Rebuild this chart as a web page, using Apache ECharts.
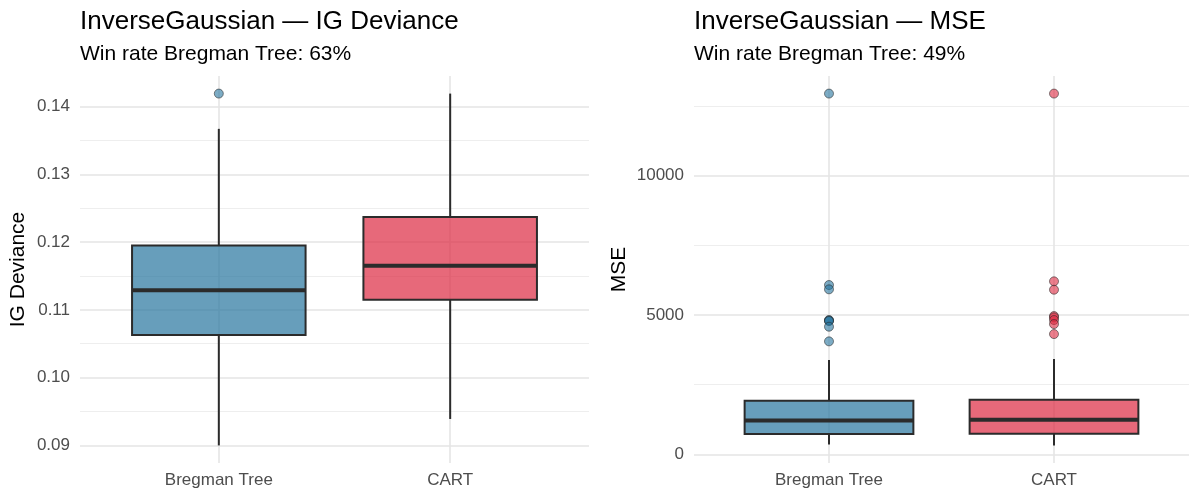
<!DOCTYPE html>
<html>
<head>
<meta charset="utf-8">
<script src="https://cdn.jsdelivr.net/npm/echarts@6/dist/echarts.min.js"></script>
<style>
    html, body { margin: 0; background: #fff; }
    #chart { width: 1200px; height: 500px; }
</style>
</head>
<body>
<div id="chart"></div>
<script>
// groups on the x axis
const groups = ["Bregman Tree", "CART"];

// IG deviance: [min, Q1, median, Q3, max] per group, plus outliers
const devBox = [
    [0.0900, 0.1063, 0.1129, 0.1195, 0.1367],
    [0.0939, 0.1115, 0.1165, 0.1237, 0.1419],
];
const devOutliers = [[0.1419], []];
const devTicks = [0.09, 0.10, 0.11, 0.12, 0.13, 0.14];
const devMinor = [0.095, 0.105, 0.115, 0.125, 0.135];

// MSE: same layout
const mseBox = [
    [359, 728, 1220, 1924, 3384],
    [323, 740, 1242, 1960, 3420],
];
const mseOutliers = [
    [12940, 6075, 5920, 4819, 4800, 4783, 4580, 4054],
    [12940, 6207, 5906, 4962, 4915, 4819, 4675, 4316],
];
const mseTicks = [0, 5000, 10000];
const mseMinor = [2500, 7500, 12500];

const boxFill = ["rgba(38,117,158,0.7)", "rgba(221,42,65,0.7)"];
const pointFill = ["rgba(38,117,158,0.75)", "rgba(221,42,65,0.75)"];
const ink = "#2b2b2b";
const font = "Liberation Sans, Arial, sans-serif";

// ggplot-style 5% expansion of the value range
function expand(box, out) {
    const all = box.flat().concat(out.flat());
    const lo = Math.min(...all), hi = Math.max(...all);
    const pad = (hi - lo) * 0.05;
    return [lo - pad, hi + pad];
}

function renderBox(params, api) {
    const x = api.value(0);
    const half = 0.375;
    const pMin = api.coord([x, api.value(1)]);
    const pQ1 = api.coord([x, api.value(2)]);
    const pMed = api.coord([x, api.value(3)]);
    const pQ3 = api.coord([x, api.value(4)]);
    const pMax = api.coord([x, api.value(5)]);
    const xl = api.coord([x - half, api.value(3)])[0];
    const xr = api.coord([x + half, api.value(3)])[0];
    const lineStyle = { stroke: ink, lineWidth: 2 };
    return {
        type: "group",
        children: [
            { type: "line", shape: { x1: pMin[0], y1: pMin[1], x2: pQ1[0], y2: pQ1[1] }, style: lineStyle },
            { type: "line", shape: { x1: pQ3[0], y1: pQ3[1], x2: pMax[0], y2: pMax[1] }, style: lineStyle },
            {
                type: "rect",
                shape: { x: xl, y: pQ3[1], width: xr - xl, height: pQ1[1] - pQ3[1] },
                style: { fill: boxFill[params.dataIndex], stroke: ink, lineWidth: 2 },
            },
            { type: "line", shape: { x1: xl, y1: pMed[1], x2: xr, y2: pMed[1] }, style: { stroke: ink, lineWidth: 4 } },
        ],
    };
}

function xAxisFor(gridIndex) {
    return {
        type: "value",
        gridIndex,
        min: 0.4,
        max: 2.6,
        axisLine: { show: false },
        axisTick: { show: false, customValues: [1, 2] },
        axisLabel: {
            customValues: [1, 2],
            formatter: (v) => groups[Math.round(v) - 1] || "",
            color: "#4d4d4d",
            fontSize: 17,
            fontFamily: font,
            margin: 9,
        },
        splitLine: { show: true, lineStyle: { color: "#e5e5e5", width: 1.6 } },
    };
}

function yAxesFor(gridIndex, range, ticks, minor, name, nameGap, fmt) {
    return [
        {
            type: "value",
            gridIndex,
            min: range[0],
            max: range[1],
            name,
            nameLocation: "middle",
            nameGap,
            nameTextStyle: { color: "#000", fontSize: 21, fontFamily: font },
            axisLine: { show: false },
            axisTick: { show: false, customValues: ticks },
            axisLabel: { customValues: ticks, formatter: fmt, color: "#4d4d4d", fontSize: 17, fontFamily: font, margin: 10 },
            splitLine: { show: true, lineStyle: { color: "#e5e5e5", width: 1.6 } },
        },
        {
            type: "value",
            gridIndex,
            min: range[0],
            max: range[1],
            position: "left",
            axisLine: { show: false },
            axisTick: { show: false, customValues: minor },
            axisLabel: { show: false, customValues: minor },
            splitLine: { show: true, lineStyle: { color: "#eeeeee", width: 1 } },
        },
    ];
}

const devRange = expand(devBox, devOutliers);
const mseRange = expand(mseBox, mseOutliers);

const titleStyle = { fontSize: 26, fontWeight: "normal", color: "#000", fontFamily: font };
const subStyle = { fontSize: 21, fontWeight: "normal", color: "#000", fontFamily: font };

const chart = echarts.init(document.getElementById("chart"), null, { renderer: "canvas" });

chart.setOption({
    animation: false,
    backgroundColor: "#fff",
    title: [
        { text: "InverseGaussian — IG Deviance", left: 75, top: 4, textStyle: titleStyle },
        { text: "Win rate Bregman Tree: 63%", left: 75, top: 39, textStyle: subStyle },
        { text: "InverseGaussian — MSE", left: 689, top: 4, textStyle: titleStyle },
        { text: "Win rate Bregman Tree: 49%", left: 689, top: 39, textStyle: subStyle },
    ],
    grid: [
        { left: 80, top: 76, width: 509, height: 387 },
        { left: 694, top: 76, width: 495, height: 387 },
    ],
    xAxis: [xAxisFor(0), xAxisFor(1)],
    yAxis: [
        ...yAxesFor(0, devRange, devTicks, devMinor, "IG Deviance", 51, (v) => v.toFixed(2)),
        ...yAxesFor(1, mseRange, mseTicks, mseMinor, "MSE", 64, (v) => String(Math.round(v))),
    ],
    series: [
        {
            type: "custom",
            xAxisIndex: 0,
            yAxisIndex: 0,
            renderItem: renderBox,
            encode: { x: 0, y: [1, 2, 3, 4, 5] },
            data: devBox.map((b, i) => [i + 1, ...b]),
            z: 2,
        },
        {
            type: "scatter",
            xAxisIndex: 0,
            yAxisIndex: 0,
            symbolSize: 9,
            itemStyle: { color: (p) => pointFill[p.data[0] - 1], borderColor: "rgba(40,40,40,0.7)", borderWidth: 1 },
            data: devOutliers.flatMap((arr, i) => arr.map((v) => [i + 1, v])),
            z: 3,
        },
        {
            type: "custom",
            xAxisIndex: 1,
            yAxisIndex: 2,
            renderItem: renderBox,
            encode: { x: 0, y: [1, 2, 3, 4, 5] },
            data: mseBox.map((b, i) => [i + 1, ...b]),
            z: 2,
        },
        {
            type: "scatter",
            xAxisIndex: 1,
            yAxisIndex: 2,
            symbolSize: 9,
            itemStyle: { color: (p) => pointFill[p.data[0] - 1], borderColor: "rgba(40,40,40,0.7)", borderWidth: 1 },
            data: mseOutliers.flatMap((arr, i) => arr.map((v) => [i + 1, v])),
            z: 3,
        },
    ],
});
</script>
</body>
</html>
